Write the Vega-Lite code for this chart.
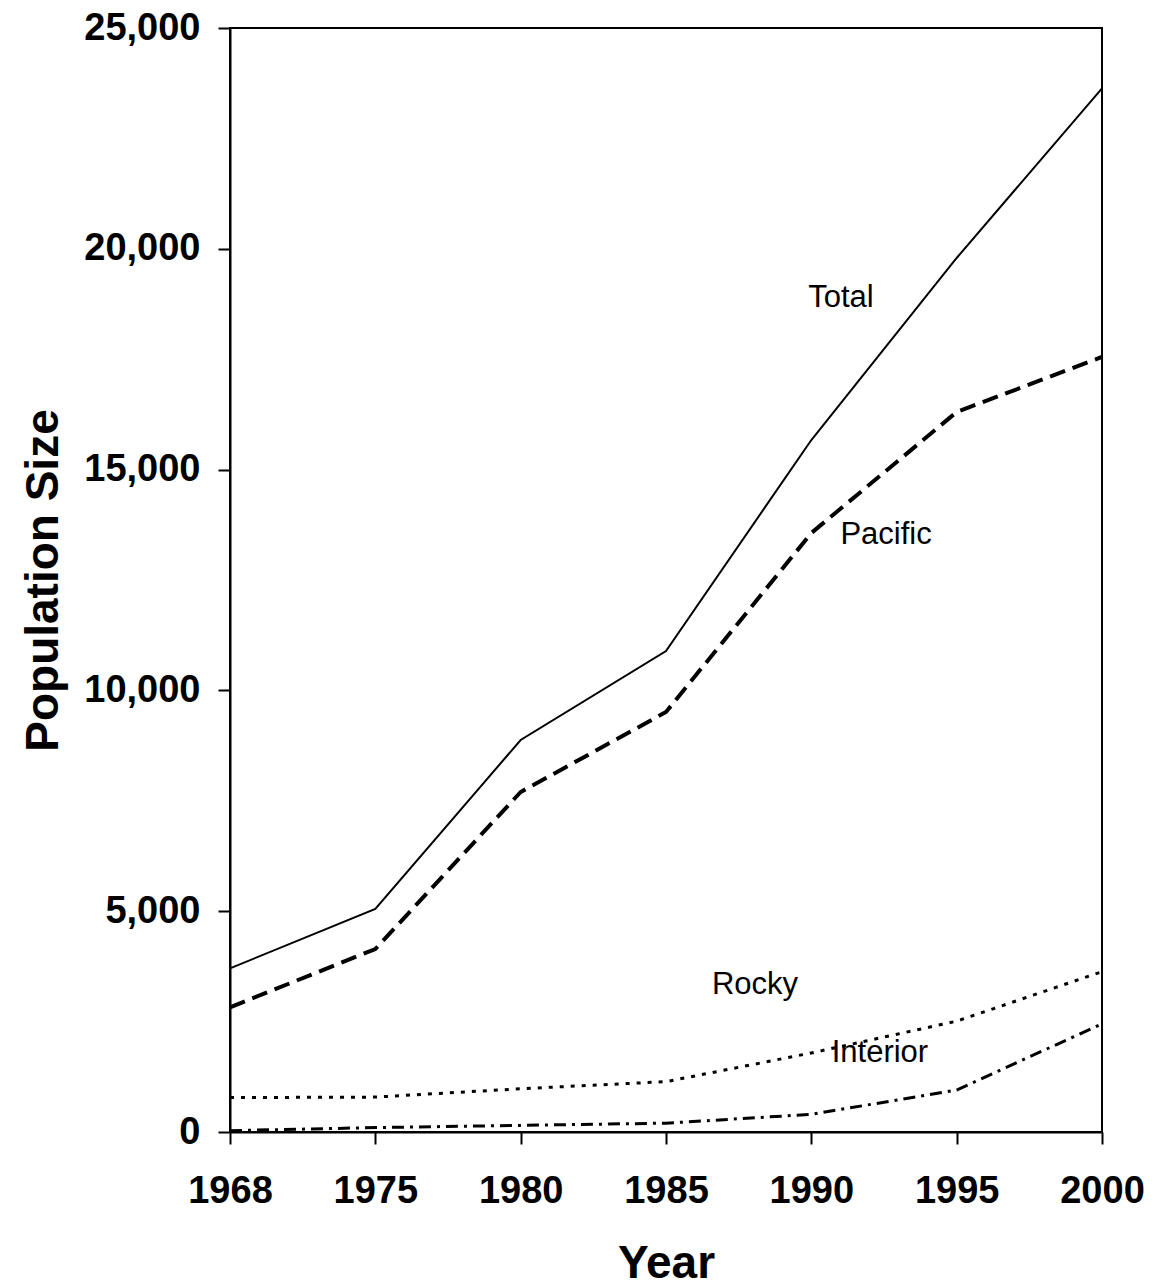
{
  "$schema": "https://vega.github.io/schema/vega-lite/v6.json",
  "width": 872,
  "height": 1104,
  "autosize": "none",
  "padding": {"left": 230, "top": 28, "right": 50, "bottom": 154},
  "background": "white",
  "config": {
    "view": {"stroke": "black", "strokeWidth": 2},
    "font": "Liberation Sans",
    "axis": {
      "grid": false,
      "domainColor": "black",
      "domainWidth": 2,
      "tickColor": "black",
      "tickWidth": 2,
      "tickSize": 12,
      "labelFont": "Liberation Sans",
      "labelFontWeight": "bold",
      "labelFontSize": 38,
      "labelColor": "black",
      "titleFont": "Liberation Sans",
      "titleFontWeight": "bold",
      "titleFontSize": 46,
      "titleColor": "black"
    }
  },
  "datasets": {
    "pop": [
      {"year": 1968, "series": "Total", "value": 3706},
      {"year": 1975, "series": "Total", "value": 5050},
      {"year": 1980, "series": "Total", "value": 8877},
      {"year": 1985, "series": "Total", "value": 10892},
      {"year": 1990, "series": "Total", "value": 15670},
      {"year": 1995, "series": "Total", "value": 19792},
      {"year": 2000, "series": "Total", "value": 23634},
      {"year": 1968, "series": "Pacific", "value": 2823},
      {"year": 1975, "series": "Pacific", "value": 4144},
      {"year": 1980, "series": "Pacific", "value": 7699},
      {"year": 1985, "series": "Pacific", "value": 9511},
      {"year": 1990, "series": "Pacific", "value": 13564},
      {"year": 1995, "series": "Pacific", "value": 16304},
      {"year": 2000, "series": "Pacific", "value": 17550},
      {"year": 1968, "series": "Rocky", "value": 780},
      {"year": 1975, "series": "Rocky", "value": 790},
      {"year": 1980, "series": "Rocky", "value": 980},
      {"year": 1985, "series": "Rocky", "value": 1140},
      {"year": 1990, "series": "Rocky", "value": 1790},
      {"year": 1995, "series": "Rocky", "value": 2510},
      {"year": 2000, "series": "Rocky", "value": 3630},
      {"year": 1968, "series": "Interior", "value": 30},
      {"year": 1975, "series": "Interior", "value": 100},
      {"year": 1980, "series": "Interior", "value": 150},
      {"year": 1985, "series": "Interior", "value": 200},
      {"year": 1990, "series": "Interior", "value": 400},
      {"year": 1995, "series": "Interior", "value": 950},
      {"year": 2000, "series": "Interior", "value": 2450}
    ],
    "labels": [
      {"year": 1991.02, "value": 18880, "label": "Total"},
      {"year": 1992.57, "value": 13508, "label": "Pacific"},
      {"year": 1988.06, "value": 3329, "label": "Rocky"},
      {"year": 1992.36, "value": 1800, "label": "Interior"}
    ]
  },
  "encoding": {
    "x": {
      "field": "year",
      "type": "quantitative",
      "scale": {"domain": [1968, 1975, 2000], "range": [0, 145.33, 872], "nice": false, "zero": false},
      "axis": {"values": [1968, 1975, 1980, 1985, 1990, 1995, 2000], "format": "d", "title": "Year", "labelPadding": 28, "titlePadding": 31, "labelFlush": false, "labelOverlap": false}
    },
    "y": {
      "field": "value",
      "type": "quantitative",
      "scale": {"domain": [0, 25000], "nice": false},
      "axis": {"values": [0, 5000, 10000, 15000, 20000, 25000], "format": ",.0f", "title": "Population Size", "labelPadding": 18, "titlePadding": 16, "labelFlush": false, "labelOverlap": false}
    }
  },
  "layer": [
    {
      "data": {"name": "pop"},
      "transform": [{"filter": "datum.series === 'Total'"}],
      "mark": {"type": "line", "color": "black", "strokeWidth": 2}
    },
    {
      "data": {"name": "pop"},
      "transform": [{"filter": "datum.series === 'Pacific'"}],
      "mark": {"type": "line", "color": "black", "strokeWidth": 4, "strokeDash": [16, 8]}
    },
    {
      "data": {"name": "pop"},
      "transform": [{"filter": "datum.series === 'Rocky'"}],
      "mark": {"type": "line", "color": "black", "strokeWidth": 3, "strokeDash": [4, 7]}
    },
    {
      "data": {"name": "pop"},
      "transform": [{"filter": "datum.series === 'Interior'"}],
      "mark": {"type": "line", "color": "black", "strokeWidth": 3, "strokeDash": [12, 6, 3, 6]}
    },
    {
      "data": {"name": "labels"},
      "mark": {"type": "text", "font": "Liberation Sans", "fontSize": 31, "color": "black", "align": "center", "baseline": "middle"},
      "encoding": {
        "text": {"field": "label"}
      }
    }
  ]
}
